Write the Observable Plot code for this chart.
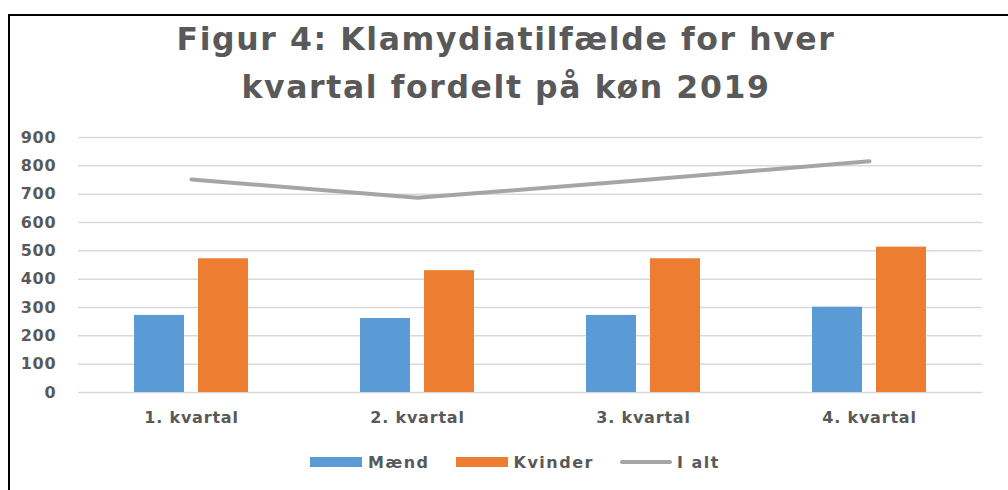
<!DOCTYPE html>
<html>
<head>
<meta charset="utf-8">
<script src="https://cdn.jsdelivr.net/npm/d3@7"></script>
<script src="https://cdn.jsdelivr.net/npm/@observablehq/plot@0.6"></script>
<style>
  html, body { margin: 0; padding: 0; background: #fff; width: 1008px; height: 490px; overflow: hidden; }
  body { position: relative; font-family: "DejaVu Sans", sans-serif; color: #595959; }
  #frame { position: absolute; left: 8px; top: 14px; width: 1100px; height: 600px; border: 2px solid #000; box-sizing: border-box; }
  #title { position: absolute; left: 0; top: 15px; width: 1012px; text-align: center; font-weight: 700; font-size: 31.5px; line-height: 48px; letter-spacing: 1.6px; color: #595959; }
  #chart { position: absolute; left: 0; top: 118px; }
  #chart svg text { letter-spacing: 0.8px; }
  #legend { position: absolute; left: 310px; top: 450px; height: 24px; display: flex; align-items: center; font-weight: 700; font-size: 16px; letter-spacing: 1.5px; color: #595959; }
  .sw { width: 52px; height: 10px; margin-right: 6px; }
  .ln { width: 52px; height: 4px; border-radius: 2px; margin-right: 5px; }
  .item { display: flex; align-items: center; margin-right: 26px; }
</style>
</head>
<body>
<div id="frame"></div>
<div id="title">Figur 4: Klamydiatilfælde for hver<br>kvartal fordelt på køn 2019</div>
<div id="chart"></div>
<div id="legend"></div>
<script>
const quarters = ["1. kvartal", "2. kvartal", "3. kvartal", "4. kvartal"];
const maend = [272, 261, 272, 301];
const kvinder = [472, 430, 472, 513];
const ialt = [752, 687, 750, 816];
const yTicks = [0, 100, 200, 300, 400, 500, 600, 700, 800, 900];
const seriesNames = ["Mænd", "Kvinder", "I alt"];
const colors = ["#5b9bd5", "#ed7d31", "#a5a5a5"];

const rowsM = quarters.map((q, i) => ({q, v: maend[i]}));
const rowsK = quarters.map((q, i) => ({q, v: kvinder[i]}));
const rowsT = quarters.map((q, i) => ({q, v: ialt[i]}));

const plot = Plot.plot({
  width: 1008,
  height: 330,
  marginTop: 19,
  marginBottom: 56,
  marginLeft: 78,
  marginRight: 26,
  style: { fontFamily: "'DejaVu Sans', sans-serif", fontWeight: 700, fontSize: "16px", color: "#595959", background: "transparent" },
  x: { type: "band", domain: quarters, padding: 0, label: null, tickSize: 0, tickPadding: 19 },
  y: { domain: [0, 900], ticks: yTicks, label: null, tickSize: 0, tickPadding: 22 },
  marks: [
    Plot.ruleY(yTicks, { stroke: "#d9d9d9", strokeWidth: 1.5 }),
    Plot.barY(rowsM, { x: "q", y: "v", fill: colors[0], insetLeft: 56, insetRight: 120 }),
    Plot.barY(rowsK, { x: "q", y: "v", fill: colors[1], insetLeft: 120, insetRight: 56 }),
    Plot.lineY(rowsT, { x: "q", y: "v", stroke: colors[2], strokeWidth: 4, strokeLinecap: "round", strokeLinejoin: "round" })
  ]
});
document.getElementById("chart").appendChild(plot);

const legend = document.getElementById("legend");
seriesNames.forEach((name, i) => {
  const item = document.createElement("div");
  item.className = "item";
  const sw = document.createElement("div");
  sw.className = i === 2 ? "ln" : "sw";
  sw.style.background = colors[i];
  const t = document.createElement("span");
  t.textContent = name;
  item.appendChild(sw);
  item.appendChild(t);
  legend.appendChild(item);
});
</script>
</body>
</html>
